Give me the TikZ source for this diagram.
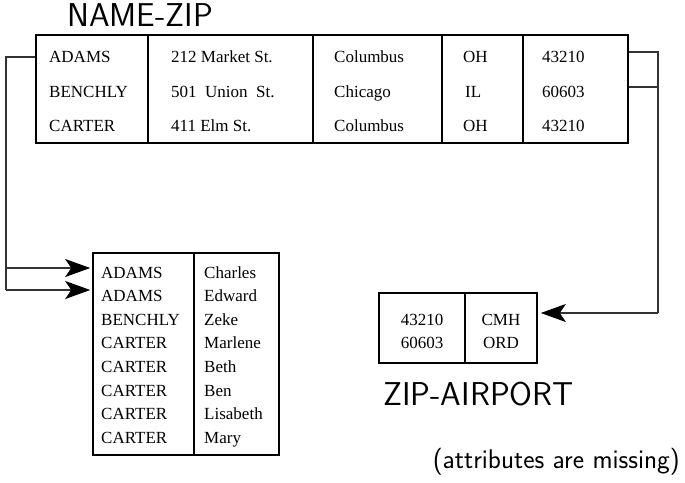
\documentclass[tikz,border=0pt]{standalone}
\usepackage{fontspec}
\newfontfamily\tabfont{Liberation Serif}
\usetikzlibrary{arrows.meta}
\tikzset{
  cell/.style={anchor=base west, inner sep=0pt, font=\tabfont\fontsize{17}{18}\selectfont},
  ccell/.style={cell, anchor=base},
  title/.style={anchor=base west, inner sep=0pt, font=\sffamily\fontsize{33}{33}\selectfont},
  note/.style={anchor=base east, inner sep=0pt, font=\sffamily\fontsize{27}{28}\selectfont},
  frame/.style={draw, line width=1.6pt, inner sep=0pt},
  link/.style={draw=black!80, line width=1.3pt},
  arr/.style={-{Stealth[length=25pt, width=18pt, inset=6pt, black]}},
}
\begin{document}
\begin{tikzpicture}[x=1pt, y=-1pt]
  \useasboundingbox (0,0) rectangle (685,482);
  % NAME-ZIP
  \node[title] (tnz) at (67,26) {NAME-ZIP};
  \node[frame, minimum width=592pt, minimum height=108pt] (nz) at (332,89) {};
  \draw[frame] (148,0 |- nz.north) -- (148,0 |- nz.south);
  \draw[frame] (313,0 |- nz.north) -- (313,0 |- nz.south);
  \draw[frame] (442,0 |- nz.north) -- (442,0 |- nz.south);
  \draw[frame] (523,0 |- nz.north) -- (523,0 |- nz.south);
  \node[cell] (nz-n1) at (49,62)  {ADAMS};
  \node[cell] (nz-n2) at (49,97)  {BENCHLY};
  \node[cell] (nz-n3) at (49,131) {CARTER};
  \node[cell] (nz-s1) at (171,62)  {212 Market St.};
  \node[cell] (nz-s2) at (171,97)  {501\ \ Union\ \ St.};
  \node[cell] (nz-s3) at (171,131) {411 Elm St.};
  \node[cell] (nz-c1) at (334,62)  {Columbus};
  \node[cell] (nz-c2) at (334,97)  {Chicago};
  \node[cell] (nz-c3) at (334,131) {Columbus};
  \node[cell] (nz-t1) at (463,62)  {OH};
  \node[cell] (nz-t2) at (465,97)  {IL};
  \node[cell] (nz-t3) at (463,131) {OH};
  \node[cell] (nz-z1) at (542,62)  {43210};
  \node[cell] (nz-z2) at (542,97)  {60603};
  \node[cell] (nz-z3) at (542,131) {43210};

  % NAME-FIRST
  \node[frame, minimum width=186pt, minimum height=202pt] (nf) at (186,354) {};
  \draw[frame] (194,0 |- nf.north) -- (194,0 |- nf.south);
  \node[cell] (nf-n1) at (101,278)   {ADAMS};    \node[cell] (nf-f1) at (204,278)   {Charles};
  \node[cell] (nf-n2) at (101,301.6) {ADAMS};    \node[cell] (nf-f2) at (204,301.6) {Edward};
  \node[cell] (nf-n3) at (101,325.2) {BENCHLY};  \node[cell] (nf-f3) at (204,325.2) {Zeke};
  \node[cell] (nf-n4) at (101,348.8) {CARTER};   \node[cell] (nf-f4) at (204,348.8) {Marlene};
  \node[cell] (nf-n5) at (101,372.4) {CARTER};   \node[cell] (nf-f5) at (204,372.4) {Beth};
  \node[cell] (nf-n6) at (101,396)   {CARTER};   \node[cell] (nf-f6) at (204,396)   {Ben};
  \node[cell] (nf-n7) at (101,419.6) {CARTER};   \node[cell] (nf-f7) at (204,419.6) {Lisabeth};
  \node[cell] (nf-n8) at (101,443.2) {CARTER};   \node[cell] (nf-f8) at (204,443.2) {Mary};

  % ZIP-AIRPORT
  \node[frame, minimum width=158pt, minimum height=70pt] (za) at (458,328) {};
  \draw[frame] (465,0 |- za.north) -- (465,0 |- za.south);
  \node[ccell] (za-z1) at (422,325) {43210};  \node[ccell] (za-a1) at (501,325) {CMH};
  \node[ccell] (za-z2) at (422,348) {60603};  \node[ccell] (za-a2) at (501,348) {ORD};
  \node[title] (tza) at (383,405) {ZIP-AIRPORT};
  \node[note] (miss) at (680,468) {(attributes are missing)};

  % links
  \coordinate (lb1) at (6,57);  \coordinate (lb2) at (6,268);  \coordinate (lb3) at (6,290);
  \coordinate (rb1) at (658,52); \coordinate (rb2) at (658,87); \coordinate (rb3) at (658,313);
  \draw[link] (nz.west |- lb1) -- (lb1) -- (lb3);
  \draw[link, arr] (lb2) -- ([xshift=-2pt]nf.west |- lb2);
  \draw[link, arr] (lb3) -- ([xshift=-2pt]nf.west |- lb3);
  \draw[link] (nz.east |- rb1) -- (rb1) -- (rb3);
  \draw[link] (nz.east |- rb2) -- (rb2);
  \draw[link, arr] (rb3) -- ([xshift=3pt]za.east |- rb3);
\end{tikzpicture}
\end{document}
